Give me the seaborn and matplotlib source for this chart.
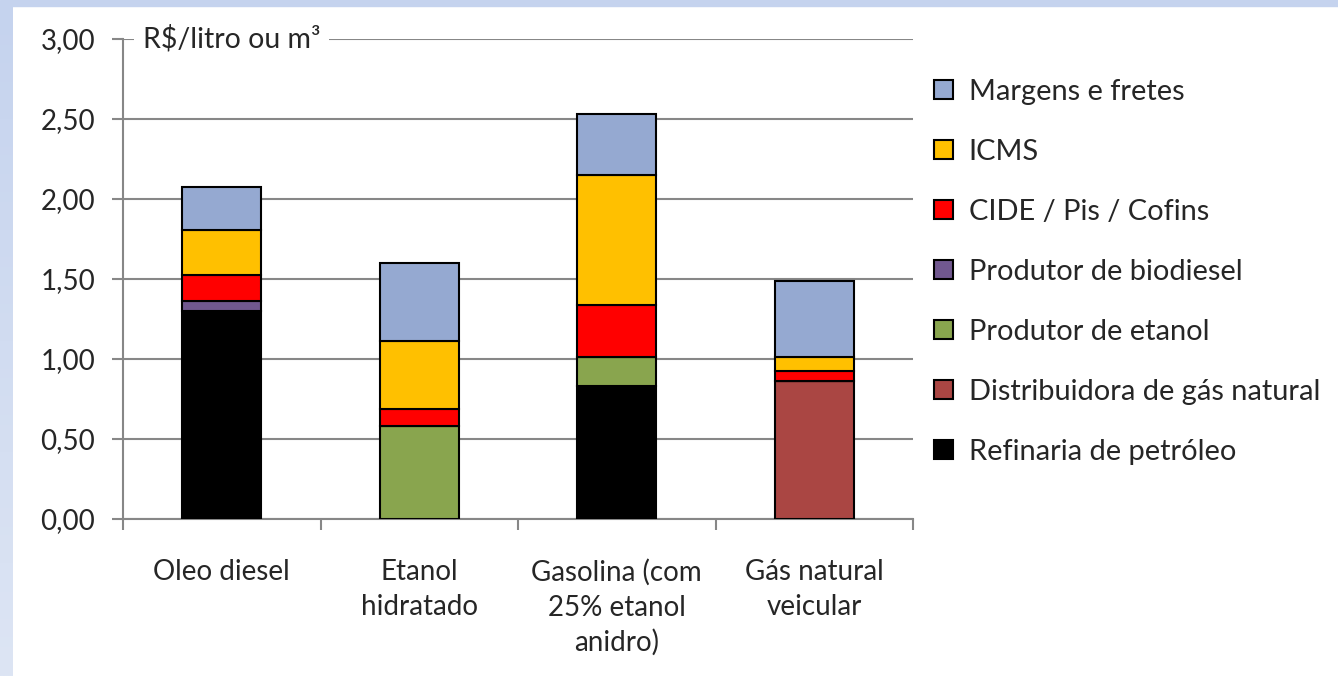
"""
Composição do preço dos combustíveis - barras empilhadas
"""

import matplotlib

matplotlib.use("Agg")
import matplotlib.pyplot as plt
import numpy as np
import seaborn as sns
from matplotlib.patches import Patch, Rectangle

# categorias e componentes (R$/litro ou m³), de baixo para cima
categorias = ["Oleo diesel", "Etanol\nhidratado", "Gasolina (com\n25% etanol\nanidro)", "Gás natural\nveicular"]
refinaria = [1.30, 0.00, 0.83, 0.00]
distribuidora_gas = [0.00, 0.00, 0.00, 0.865]
produtor_etanol = [0.00, 0.58, 0.18, 0.00]
produtor_biodiesel = [0.06, 0.00, 0.00, 0.00]
cide_pis_cofins = [0.165, 0.11, 0.33, 0.06]
icms = [0.28, 0.42, 0.81, 0.09]
margens = [0.27, 0.49, 0.38, 0.47]

componentes = [
    ("Refinaria de petróleo", refinaria, "#000000"),
    ("Distribuidora de gás natural", distribuidora_gas, "#AA4643"),
    ("Produtor de etanol", produtor_etanol, "#89A54E"),
    ("Produtor de biodiesel", produtor_biodiesel, "#71588F"),
    ("CIDE / Pis / Cofins", cide_pis_cofins, "#FF0000"),
    ("ICMS", icms, "#FFC000"),
    ("Margens e fretes", margens, "#95A9D1"),
]

yticks = [0.0, 0.5, 1.0, 1.5, 2.0, 2.5, 3.0]
ytick_labels = ["0,00", "0,50", "1,00", "1,50", "2,00", "2,50", "3,00"]
y_titulo = "R$/litro ou m³"

sns.set_style("white")
plt.rcParams["font.family"] = ["Lato", "DejaVu Sans"]
FS = 20
FS_LEG = 20.9
GRID = "#878787"

fig = plt.figure(figsize=(13.38, 6.76), dpi=100)
W, H = 1338, 676

# moldura azul clara (topo e lateral esquerda)
fig.patches.append(Rectangle((0, 1 - 6 / H), 1, 6 / H, transform=fig.transFigure, color="#C5D3EE", zorder=0))
strip = fig.add_axes([0, 0, 13 / W, 1 - 6 / H])
grad = np.linspace(0, 1, 256).reshape(-1, 1)
cmap = matplotlib.colors.LinearSegmentedColormap.from_list("strip", ["#C5D3EE", "#DDE5F4"])
strip.imshow(grad, aspect="auto", cmap=cmap)
strip.axis("off")

ax = fig.add_axes([123 / W, 1 - 519 / H, 790 / W, 480 / H])

bottom = np.zeros(len(categorias))
for nome, valores, cor in componentes:
    sns.barplot(
        x=categorias,
        y=valores,
        bottom=bottom,
        color=cor,
        edgecolor="black",
        linewidth=1.5,
        width=0.4,
        saturation=1,
        ax=ax,
        zorder=3,
    )
    bottom = bottom + np.array(valores)

ax.set_ylim(0, 3.0)
ax.set_xlim(-0.5, len(categorias) - 0.5)
ax.set_yticks(yticks)
ax.set_yticklabels(ytick_labels, fontsize=FS)
ax.yaxis.grid(True, color=GRID, lw=1.5, zorder=0)
ax.set_axisbelow(True)

# ticks no limite entre categorias, rótulos no centro
ax.set_xticks(np.arange(-0.5, len(categorias), 1.0))
ax.set_xticklabels([])
ax.set_xticks(np.arange(len(categorias)), minor=True)
ax.set_xticklabels(categorias, minor=True, fontsize=FS, linespacing=1.4, va="top")
ax.tick_params(axis="x", which="major", length=8, width=1.5, color=GRID, direction="out", bottom=True)
ax.tick_params(axis="x", which="minor", length=0, pad=29)
ax.tick_params(axis="y", length=8, width=1.5, color=GRID, direction="out", left=True, pad=12)
ax.set_xlabel("")
ax.set_ylabel("")

for side in ["top", "right"]:
    ax.spines[side].set_visible(False)
for side in ["left", "bottom"]:
    ax.spines[side].set_color(GRID)
    ax.spines[side].set_linewidth(1.5)

ax.text(
    0.025,
    1.0,
    y_titulo,
    transform=ax.transAxes,
    fontsize=FS + 0.5,
    va="center",
    ha="left",
    zorder=5,
    bbox=dict(facecolor="white", edgecolor="none", pad=6),
)

handles = [Patch(facecolor=cor, edgecolor="black", linewidth=1.5) for _, _, cor in componentes][::-1]
labels = [nome for nome, _, _ in componentes][::-1]
fig.legend(
    handles,
    labels,
    loc="upper left",
    bbox_to_anchor=(934 / W, 1 - 79 / H),
    bbox_transform=fig.transFigure,
    frameon=False,
    fontsize=FS_LEG,
    handlelength=0.65,
    handleheight=0.65,
    handletextpad=0.55,
    labelspacing=1.17,
    borderpad=0,
    borderaxespad=0,
)

fig.savefig("out.png", dpi=100, facecolor="white")
